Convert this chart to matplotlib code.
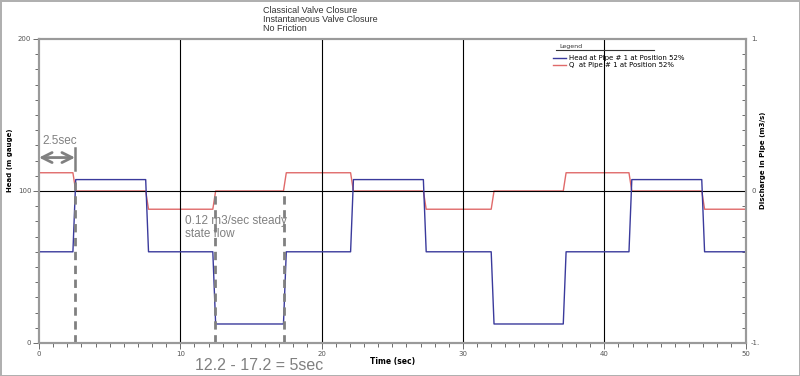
import matplotlib
matplotlib.use('Agg')
from matplotlib import pyplot as plt
from matplotlib.ticker import MultipleLocator, FixedLocator
import numpy as np

# wave front arrival times (sec) and the levels held between them
switch_times = [2.4, 7.55, 12.3, 17.3, 22.05, 27.2, 32.0, 37.1, 41.75, 46.9]
head_levels = [60, 107.5, 60, 12.5, 60, 107.5, 60, 12.5, 60, 107.5, 60]
q_levels = [0.12, 0.0, -0.12, 0.0, 0.12, 0.0, -0.12, 0.0, 0.12, 0.0, -0.12]
ramp = 0.2
t_end = 50

title_lines = ['Classical Valve Closure', 'Instantaneous Valve Closure', 'No Friction']
dash_times = [2.55, 12.45, 17.35]


def stepped(times, levels, ramp, t_end):
    t = [0.0]
    v = [levels[0]]
    for ts, lv_prev, lv in zip(times, levels[:-1], levels[1:]):
        t += [ts, ts + ramp]
        v += [lv_prev, lv]
    t.append(t_end)
    v.append(levels[-1])
    return np.array(t), np.array(v)


grey = '#9a9a9a'
tick_col = '#555555'

fig = plt.figure(figsize=(8, 3.76), dpi=100)
fig.patch.set_edgecolor('#b0b0b0')
fig.patch.set_linewidth(2)
ax = fig.add_axes([0.04875, 0.0878, 0.8832, 0.8085])

th, vh = stepped(switch_times, head_levels, ramp, t_end)
tq, vq = stepped(switch_times, q_levels, ramp, t_end)

ax.set_xlim(0, 50)
ax.set_ylim(0, 200)
for xg in [10, 20, 30, 40]:
    ax.axvline(xg, color='black', lw=0.8, zorder=1)
ax.axhline(100, color='black', lw=0.8, zorder=1)

ax2 = ax.twinx()
ax2.set_ylim(-1, 1)
l2, = ax2.plot(tq, vq, color='#e06a6a', lw=1.0, label='Q  at Pipe # 1 at Position 52%')
l1, = ax.plot(th, vh, color='#3a3a9c', lw=1.0, label='Head at Pipe # 1 at Position 52%')
ax.set_zorder(ax2.get_zorder() + 1)
ax.patch.set_visible(False)

# annotations
ax.annotate('', xy=(0, 122), xytext=(2.55, 122),
            arrowprops=dict(arrowstyle='<->', color='#808080', lw=2, mutation_scale=18,
                            shrinkA=0, shrinkB=0))
ax.plot([2.55, 2.55], [114, 128], color='#808080', lw=1.8)
ax.vlines(dash_times[0], 0, 107, colors='#808080', linestyles=(0, (3, 2)), lw=2)
ax.vlines(dash_times[1:], 0, 100, colors='#808080', linestyles=(0, (3, 2)), lw=2)
ax.text(0.25, 131, '2.5sec', color='#808080', fontsize=8.5, family='Liberation Sans')
ax.text(10.3, 70, '0.12 m3/sec steady\nstate flow', color='#808080', fontsize=8.5,
        family='Liberation Sans', linespacing=1.1)
fig.text(0.244, 0.017, '12.2 - 17.2 = 5sec', color='#808080', fontsize=11.5,
         family='Liberation Sans', va='baseline')

fig.text(0.329, 0.983, '\n'.join(title_lines), fontsize=6.5, va='top', ha='left',
         family='Liberation Sans', color='#333333', linespacing=1.0)

# ticks and spines
for a in (ax, ax2):
    for s in a.spines.values():
        s.set_color(grey)
        s.set_linewidth(1.5)
ax.xaxis.set_major_locator(FixedLocator([0, 10, 20, 30, 40, 50]))
ax.xaxis.set_minor_locator(MultipleLocator(1))
ax.yaxis.set_major_locator(FixedLocator([0, 100, 200]))
ax.yaxis.set_minor_locator(MultipleLocator(10))
ax2.yaxis.set_major_locator(FixedLocator([-1, 0, 1]))
ax2.yaxis.set_minor_locator(MultipleLocator(0.1))
ax2.set_yticklabels(['-1.', '0', '1.'])
for a in (ax, ax2):
    a.tick_params(which='both', labelsize=5, labelcolor=tick_col, color=tick_col, width=0.6, pad=1.5)
    a.tick_params(which='major', length=4)
    a.tick_params(which='minor', length=3)
ax2.tick_params(which='both', direction='in', pad=4)

ax.set_xlabel('Time (sec)', fontsize=5.5, fontweight='bold')
ax.xaxis.set_label_coords(0.5, -0.045)
ax.set_ylabel('Head (m gauge)', fontsize=5, fontweight='bold')
ax.yaxis.set_label_coords(-0.037, 0.6)
ax2.set_ylabel('Discharge in Pipe (m3/s)', fontsize=5, fontweight='bold')
ax2.yaxis.set_label_coords(1.02, 0.6)

# legend block: heading, underline, entries
ax.text(0.737, 0.975, 'Legend', transform=ax.transAxes, fontsize=4.5, color='#333333',
        va='center', ha='left')
ax.plot([0.732, 0.87], [0.965, 0.965], transform=ax.transAxes, color='#333333', lw=0.8)
ax.legend(handles=[l1, l2], loc='upper left', bbox_to_anchor=(0.72, 0.962),
          frameon=False, fontsize=5, handlelength=2, handletextpad=0.4,
          borderpad=0.2, labelspacing=0.15)

fig.savefig('out.png', dpi=100, edgecolor=fig.get_edgecolor())
